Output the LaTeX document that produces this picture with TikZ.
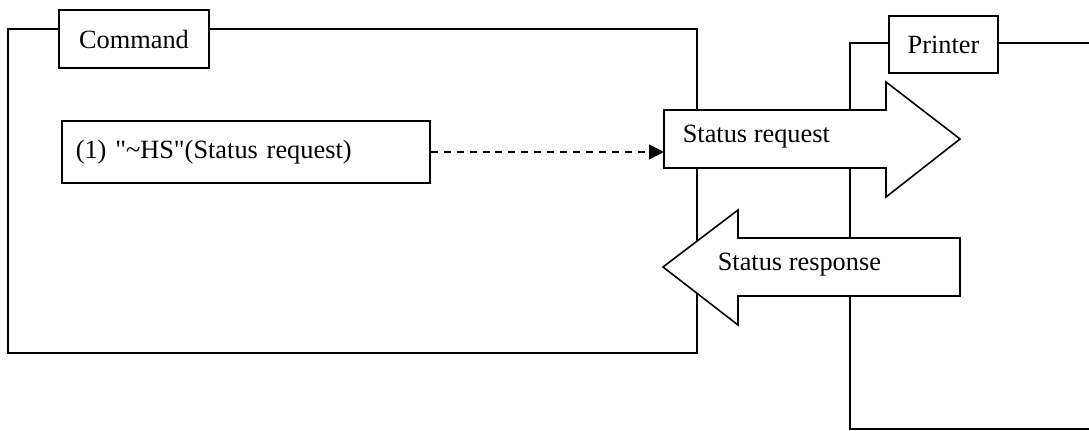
\documentclass[tikz,border=0pt]{standalone}
\usepackage{fontspec}
\setmainfont{Liberation Serif}
\usetikzlibrary{arrows.meta}
\usepackage{xcolor}
\colorlet{frameline}{black}
\colorlet{boxfill}{white}

\tikzset{
  label box/.style={draw=frameline, fill=boxfill, line width=0.9pt, inner sep=0pt},
  big arrow/.style={draw=frameline, fill=boxfill, line width=0.9pt, line join=miter},
  txt/.style={font=\fontsize{15}{18}\selectfont}
}

\begin{document}
\begin{tikzpicture}[x=0.02cm,y=-0.02cm,line width=0.9pt,txt]
  \useasboundingbox (0,0) rectangle (1089,431);

  \coordinate (cmd_n1) at (8,29);
  \coordinate (cmd_n2) at (697,353);

  \coordinate (prn_n1) at (1089,43);
  \coordinate (prn_n2) at (850,43);
  \coordinate (prn_n3) at (850,429);
  \coordinate (prn_n4) at (1089,429);

%  Frames
  \draw[frameline] (cmd_n1) rectangle (cmd_n2);
  \draw[frameline] (prn_n1) -- (prn_n2) -- (prn_n3) -- (prn_n4);

  \node[label box, minimum width=3cm, minimum height=1.16cm] (command) at (134,39) {Command};
  \node[label box, minimum width=2.18cm, minimum height=1.14cm] (printer) at (943.5,44.5) {Printer};

%  Status request arrow
  \draw[big arrow] (664,110) -- (886,110) -- (886,82) -- (960,139) -- (886,197) -- (886,168) -- (664,168) -- cycle;
  \node[anchor=west, inner sep=0pt] (request) at (682,137) {Status request};
  \coordinate (request_tail) at (664,152);

%  Status response arrow
  \draw[big arrow] (960,238) -- (738,238) -- (738,210) -- (663,267) -- (738,325) -- (738,296) -- (960,296) -- cycle;
  \node[anchor=west, inner sep=0pt] (response) at (717,265) {Status response};

%  Command text
  \node[label box, anchor=west, minimum width=7.36cm, minimum height=1.24cm, text width=6.8cm, inner xsep=0.28cm, align=left] (hs) at (61,152) {(1) \textquotedbl\textasciitilde HS\textquotedbl(Status request)};

  \draw[dashed, dash pattern=on 0.14cm off 0.12cm, -{Triangle[length=0.3cm,width=0.3cm]}] (hs) -- (request_tail);

\end{tikzpicture}
\end{document}
